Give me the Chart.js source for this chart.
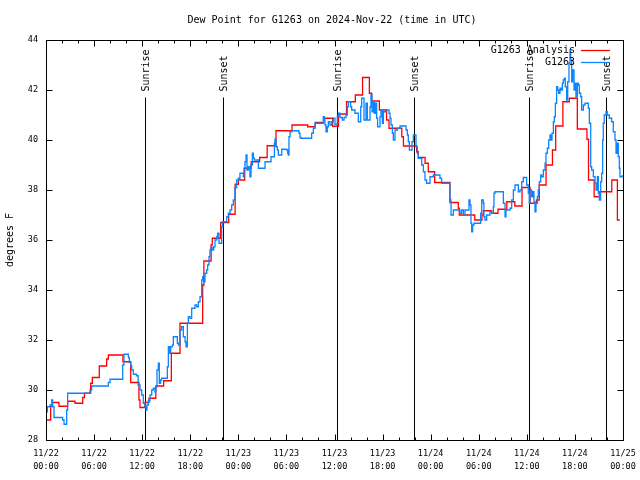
<!DOCTYPE html>
<html>
<head>
<meta charset="utf-8">
<script src="https://cdn.jsdelivr.net/npm/chart.js@4.4.1/dist/chart.umd.min.js"></script>
<style>
  html, body { margin: 0; padding: 0; background: #fff; }
  canvas { display: block; }
</style>
</head>
<body>
<canvas id="dewChart" width="640" height="480"></canvas>
<script>
// hours since 11/22 00:00 UTC, dew point in degrees F
const analysisHours = [0, 0.58, 0.8, 1.62, 2.7, 3.62, 4.58, 4.8, 5.57, 5.78, 6.65, 7.57, 7.78, 9.6, 10.57, 11.6, 11.73, 12.35, 12.85, 13.7, 14.68, 15.64, 16.72, 19.55, 19.7, 20.6, 20.75, 21.8, 22.8, 23.6, 24.0, 24.8, 25.6, 26.66, 27.6, 28.7, 30.7, 32.65, 33.6, 34.65, 35.77, 36.5, 37.5, 38.6, 39.5, 40.35, 40.64, 41.6, 42.5, 42.8, 44.4, 44.6, 46.25, 46.46, 47.3, 47.7, 48.5, 50.4, 51.45, 51.57, 53.5, 54.4, 54.57, 55.6, 56.4, 57.5, 58.5, 59.4, 60.4, 61.2, 61.55, 62.4, 63.2, 63.6, 64.5, 65.3, 66.3, 67.5, 67.7, 68.4, 69.1, 70.6, 71.3, 71.6];
const analysisValues = [28.8, 29.35, 29.5, 29.35, 29.55, 29.47, 29.7, 29.87, 30.27, 30.5, 30.96, 31.24, 31.4, 31.13, 30.3, 29.6, 29.3, 29.5, 29.67, 30.16, 30.37, 31.47, 32.67, 34.2, 35.16, 35.8, 36.07, 36.7, 37.03, 38.23, 38.4, 38.87, 39.13, 39.3, 39.77, 40.37, 40.6, 40.53, 40.7, 40.87, 40.55, 41.04, 41.53, 41.8, 42.5, 41.87, 41.56, 41.2, 40.8, 40.47, 40.13, 39.76, 39.53, 39.3, 39.07, 38.73, 38.3, 37.5, 37.27, 37.0, 36.8, 37.0, 37.17, 37.07, 37.23, 37.53, 37.36, 38.1, 37.47, 37.6, 38.2, 39.0, 39.6, 40.56, 41.53, 41.67, 40.44, 40.03, 38.4, 37.73, 37.93, 38.4, 36.8, 36.8];

const stationHours = [0, 0.17, 0.5, 0.71, 0.83, 1.0, 2.08, 2.25, 2.58, 2.7, 5.49, 5.7, 7.78, 7.99, 9.57, 9.73, 10.28, 10.4, 10.57, 10.69, 10.9, 11.3, 11.5, 11.73, 11.94, 12.14, 12.35, 12.48, 12.6, 12.77, 12.98, 13.19, 13.39, 13.6, 13.73, 13.85, 14.02, 14.14, 14.3, 14.43, 15.14, 15.27, 15.39, 15.56, 15.77, 15.89, 16.39, 16.52, 16.72, 16.93, 17.14, 17.35, 17.47, 17.64, 17.76, 17.97, 18.18, 18.59, 18.8, 19.01, 19.22, 19.43, 19.55, 19.68, 19.84, 20.05, 20.17, 20.34, 20.46, 20.59, 20.75, 20.92, 21.09, 21.3, 21.42, 21.59, 21.92, 22.05, 22.55, 22.75, 22.96, 23.17, 23.37, 23.58, 23.8, 24.0, 24.2, 24.62, 24.7, 24.83, 24.96, 25.08, 25.25, 25.45, 25.58, 25.75, 25.87, 26.0, 26.5, 27.33, 28.08, 28.5, 28.57, 28.7, 28.87, 28.99, 29.41, 30.03, 30.16, 30.24, 30.32, 30.45, 30.66, 31.57, 31.69, 31.82, 33.15, 33.36, 33.57, 34.6, 34.73, 34.81, 34.94, 35.1, 35.23, 35.44, 35.65, 35.85, 36.06, 36.35, 36.52, 36.69, 36.98, 37.19, 37.43, 37.6, 37.73, 38.02, 38.14, 38.56, 38.97, 39.27, 39.39, 39.68, 39.93, 40.1, 40.43, 40.55, 40.68, 40.85, 40.97, 41.14, 41.26, 41.38, 41.68, 41.8, 41.97, 42.1, 42.39, 42.8, 42.93, 43.05, 43.22, 43.34, 43.55, 43.84, 44.17, 44.92, 45.09, 45.21, 45.34, 45.67, 45.84, 46.17, 46.34, 46.46, 46.88, 47.09, 47.29, 47.5, 47.92, 48.33, 49.16, 49.37, 50.41, 50.54, 50.83, 51.66, 51.87, 52.08, 52.28, 52.78, 52.91, 53.03, 53.12, 53.24, 53.41, 54.24, 54.37, 54.57, 54.65, 54.78, 54.99, 55.4, 55.61, 55.82, 55.9, 56.03, 57.07, 57.28, 57.4, 57.9, 58.11, 58.32, 58.52, 58.94, 59.15, 59.36, 59.56, 59.98, 60.18, 60.3, 60.39, 60.6, 60.73, 60.89, 61.02, 61.14, 61.31, 61.43, 61.56, 61.73, 61.85, 62.06, 62.27, 62.39, 62.56, 62.73, 62.89, 63.02, 63.14, 63.31, 63.43, 63.56, 63.72, 63.85, 63.97, 64.14, 64.26, 64.43, 64.55, 64.68, 64.8, 64.97, 65.1, 65.26, 65.39, 65.47, 65.6, 65.72, 65.89, 66.01, 66.13, 66.3, 66.42, 66.55, 66.72, 66.84, 67.05, 67.26, 67.67, 67.8, 67.97, 68.09, 68.3, 68.51, 68.63, 68.8, 68.92, 69.04, 69.22, 69.34, 69.46, 69.54, 69.66, 69.88, 70.04, 70.29, 70.58, 70.79, 71.0, 71.13, 71.29, 71.41, 71.54, 71.62, 71.9];
const stationValues = [29.13, 29.33, 29.4, 29.6, 29.33, 28.9, 28.8, 28.63, 29.2, 29.87, 30.0, 30.16, 30.3, 30.43, 31.0, 31.43, 31.3, 31.1, 30.97, 30.8, 30.63, 30.57, 30.2, 30.0, 29.8, 29.47, 29.33, 29.2, 29.4, 29.57, 29.8, 30.0, 30.07, 29.93, 30.13, 30.8, 31.07, 30.27, 30.4, 30.47, 30.93, 31.73, 31.47, 31.73, 31.8, 32.13, 31.87, 31.8, 32.4, 32.53, 32.13, 31.93, 31.73, 32.67, 32.93, 32.87, 33.27, 33.4, 33.33, 33.53, 33.73, 34.4, 34.53, 34.33, 34.67, 34.8, 35.0, 35.33, 35.6, 35.7, 35.6, 35.73, 36.0, 36.13, 36.27, 35.87, 36.53, 36.73, 36.93, 37.07, 37.2, 37.4, 37.6, 38.1, 38.4, 38.47, 38.67, 38.53, 38.87, 39.13, 39.4, 38.8, 38.93, 38.53, 39.0, 39.47, 39.27, 39.2, 38.87, 39.13, 39.33, 39.87, 40.03, 39.73, 39.6, 39.4, 39.63, 39.6, 39.47, 39.4, 40.13, 40.33, 40.37, 40.27, 40.1, 40.07, 40.27, 40.47, 40.67, 40.93, 40.8, 40.6, 40.33, 40.53, 40.73, 40.6, 40.73, 40.87, 40.63, 40.96, 41.07, 40.9, 40.8, 40.9, 41.0, 41.33, 41.53, 41.33, 41.2, 41.07, 40.73, 41.33, 41.67, 40.8, 41.47, 40.8, 41.33, 41.8, 41.13, 41.53, 41.07, 41.47, 40.87, 40.53, 40.93, 41.17, 40.67, 41.13, 41.2, 41.07, 40.87, 40.6, 40.27, 40.0, 40.4, 40.47, 40.56, 40.4, 40.2, 39.93, 39.6, 39.93, 40.2, 39.73, 39.47, 39.27, 39.0, 38.73, 38.4, 38.27, 38.53, 38.6, 38.47, 38.27, 37.6, 37.0, 37.2, 37.07, 37.2, 37.0, 37.2, 37.6, 37.4, 36.67, 36.33, 36.6, 36.67, 37.07, 37.6, 37.47, 36.93, 36.8, 37.0, 37.13, 37.07, 37.33, 37.87, 37.93, 37.47, 36.93, 37.2, 37.27, 37.6, 38.0, 38.2, 37.93, 38.0, 38.33, 38.5, 38.2, 37.87, 37.47, 38.0, 37.73, 37.93, 37.53, 37.13, 37.47, 37.73, 38.0, 38.33, 38.6, 38.53, 38.8, 39.07, 39.47, 39.67, 40.0, 40.2, 40.0, 40.27, 40.73, 40.93, 41.47, 42.13, 42.0, 41.87, 42.07, 42.0, 42.27, 42.4, 42.47, 42.13, 41.6, 42.33, 43.07, 43.6, 43.2, 42.33, 42.8, 42.0, 42.27, 41.73, 42.27, 42.2, 41.87, 41.73, 41.2, 41.4, 41.47, 41.27, 40.67, 38.93, 38.8, 38.53, 38.27, 38.0, 38.53, 37.87, 37.6, 38.33, 38.67, 40.0, 40.67, 41.0, 41.13, 41.0, 40.87, 40.73, 40.33, 40.0, 39.47, 39.87, 39.33, 38.87, 38.53, 38.6];

// sunrise / sunset markers (hours)
const sunHours = [12.416, 22.149, 36.374, 45.982, 60.333, 69.94];
const sunLabels = ['Sunrise', 'Sunset', 'Sunrise', 'Sunset', 'Sunrise', 'Sunset'];
const sunLineTop = 41.7;

// axis ticks
const xTickHours = [0, 6, 12, 18, 24, 30, 36, 42, 48, 54, 60, 66, 72];
const xTickDates = ['11/22', '11/22', '11/22', '11/22', '11/23', '11/23', '11/23', '11/23', '11/24', '11/24', '11/24', '11/24', '11/25'];
const xTickTimes = ['00:00', '06:00', '12:00', '18:00', '00:00', '06:00', '12:00', '18:00', '00:00', '06:00', '12:00', '18:00', '00:00'];
const yTicks = [28, 30, 32, 34, 36, 38, 40, 42, 44];

const FONT = "'DejaVu Sans Mono', 'Liberation Mono', monospace";

function toPoints(xs, ys) {
    return xs.map((h, i) => ({ x: h, y: ys[i] }));
}

const datasets = [
    {
        label: 'G1263 Analysis',
        data: toPoints(analysisHours, analysisValues),
        borderColor: '#ff0000',
        borderWidth: 1.3,
        stepped: true,
        pointRadius: 0,
        order: 1,
        inLegend: true
    },
    {
        label: 'G1263',
        data: toPoints(stationHours, stationValues),
        borderColor: '#0a84ff',
        borderWidth: 1.3,
        stepped: true,
        pointRadius: 0,
        order: 0,
        inLegend: true
    }
];

// vertical sun lines, one small dataset each
sunHours.forEach(h => {
    datasets.push({
        data: [{ x: h, y: 28 }, { x: h, y: sunLineTop }],
        borderColor: '#000',
        borderWidth: 1,
        pointRadius: 0,
        order: 2
    });
});

//==== frame, ticks, title, legend and sun labels in gnuplot style ====//
const gnuplotFrame = {
    id: 'gnuplotFrame',
    afterDraw(chart) {
        const { ctx, chartArea: a, scales: { x, y } } = chart;
        const L = Math.round(a.left) + 0.5, R = Math.round(a.right) + 0.5;
        const T = Math.round(a.top) + 0.5, B = Math.round(a.bottom) + 0.5;
        ctx.save();
        ctx.strokeStyle = '#000';
        ctx.lineWidth = 1;
        ctx.beginPath();
        ctx.moveTo(L, T); ctx.lineTo(R, T); ctx.lineTo(R, B); ctx.lineTo(L, B); ctx.closePath();

        // x ticks, major every 6h, minor every 2h, mirrored on top
        for (let h = 0; h <= 72; h += 2) {
            const px = Math.round(x.getPixelForValue(h)) + 0.5;
            const len = h % 6 === 0 ? 6 : 3;
            ctx.moveTo(px, B); ctx.lineTo(px, B - len);
            ctx.moveTo(px, T); ctx.lineTo(px, T + len);
        }
        // y ticks, mirrored on right
        yTicks.forEach(v => {
            const py = Math.round(y.getPixelForValue(v)) + 0.5;
            ctx.moveTo(L, py); ctx.lineTo(L + 6, py);
            ctx.moveTo(R, py); ctx.lineTo(R - 6, py);
        });
        ctx.stroke();

        ctx.fillStyle = '#000';
        ctx.font = '10px ' + FONT;

        // title
        ctx.textAlign = 'center';
        ctx.textBaseline = 'middle';
        ctx.fillText('Dew Point for G1263 on 2024-Nov-22 (time in UTC)', 332, 20);

        // y axis label
        ctx.save();
        ctx.translate(10, 240);
        ctx.rotate(-Math.PI / 2);
        ctx.fillText('degrees F', 0, 0);
        ctx.restore();

        // sun labels, rotated, starting just above the line
        sunHours.forEach((h, i) => {
            const px = x.getPixelForValue(h);
            ctx.save();
            ctx.translate(px + 0.5, y.getPixelForValue(sunLineTop) - 6);
            ctx.rotate(-Math.PI / 2);
            ctx.textAlign = 'left';
            ctx.textBaseline = 'middle';
            ctx.fillText(sunLabels[i], 0, 0);
            ctx.restore();
        });

        // legend, text right aligned with line sample after it
        let row = 0;
        chart.data.datasets.forEach(ds => {
            if (!ds.inLegend) return;
            const ly = 50 + row * 12;
            ctx.textAlign = 'right';
            ctx.textBaseline = 'middle';
            ctx.fillText(ds.label, 575, ly);
            ctx.strokeStyle = ds.borderColor;
            ctx.lineWidth = 1.3;
            ctx.beginPath();
            ctx.moveTo(581, ly + 0.5);
            ctx.lineTo(610, ly + 0.5);
            ctx.stroke();
            row++;
        });
        ctx.restore();
    }
};

const ctx = document.getElementById('dewChart').getContext('2d');
new Chart(ctx, {
    type: 'line',
    data: { datasets: datasets },
    options: {
        responsive: false,
        animation: false,
        devicePixelRatio: 1,
        layout: { padding: { top: 40, right: 17, left: 0, bottom: 0 } },
        plugins: {
            legend: { display: false },
            title: { display: false },
            tooltip: { enabled: false }
        },
        scales: {
            x: {
                type: 'linear',
                min: 0,
                max: 72,
                afterBuildTicks: axis => { axis.ticks = xTickHours.map(v => ({ value: v })); },
                afterFit: axis => {
                    axis.height = 40;
                    // keep the last label from shrinking the plot area
                    axis.paddingLeft = 0;
                    axis.paddingRight = 0;
                },
                grid: { display: false, drawTicks: false },
                border: { display: false },
                ticks: {
                    autoSkip: false,
                    maxRotation: 0,
                    padding: 7,
                    color: '#000',
                    font: { family: FONT, size: 8.5, lineHeight: 1.55 },
                    callback: (value, index) => [xTickDates[index], xTickTimes[index]]
                }
            },
            y: {
                min: 28,
                max: 44,
                afterBuildTicks: axis => { axis.ticks = yTicks.map(v => ({ value: v })); },
                afterFit: axis => { axis.width = 46; },
                grid: { display: false, drawTicks: false },
                border: { display: false },
                ticks: {
                    padding: 8,
                    color: '#000',
                    font: { family: FONT, size: 8.5 }
                }
            }
        }
    },
    plugins: [gnuplotFrame]
});
</script>
</body>
</html>
